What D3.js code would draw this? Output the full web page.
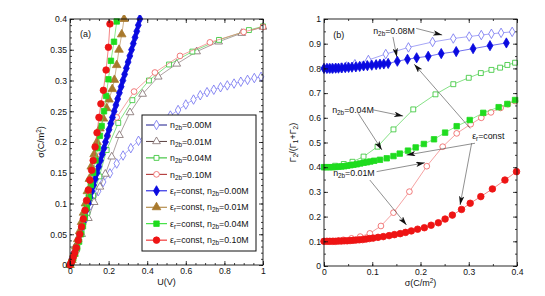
<!DOCTYPE html>
<html><head><meta charset="utf-8">
<script src="https://cdn.jsdelivr.net/npm/d3@7"></script>
<style>
body{margin:0;background:#fff}
svg{display:block}
text{font-family:"Liberation Sans",Arial,sans-serif;fill:#111}
</style></head>
<body><svg id="c" width="545" height="296"></svg>
<script>
// ---------- Panel (a): sigma vs U ----------
const aXTicks = [0, 0.2, 0.4, 0.6, 0.8, 1];
const aXTickLabels = ["0", "0.2", "0.4", "0.6", "0.8", "1"];
const aYTicks = [0, 0.05, 0.1, 0.15, 0.2, 0.25, 0.3, 0.35, 0.4];
const aYTickLabels = ["0", "0.05", "0.1", "0.15", "0.2", "0.25", "0.3", "0.35", "0.4"];

// [U, sigma]
const aOpen000 = [[0,0],[0.01,0.01],[0.02,0.02],[0.03,0.03],[0.045,0.045],[0.06,0.058],[0.075,0.072],[0.09,0.085],[0.105,0.097],[0.12,0.107],[0.146,0.12],[0.172,0.135],[0.207,0.149],[0.242,0.165],[0.275,0.178],[0.315,0.19],[0.355,0.202],[0.395,0.213],[0.435,0.224],[0.475,0.234],[0.52,0.243],[0.56,0.252],[0.6,0.261],[0.64,0.269],[0.675,0.276],[0.71,0.281],[0.745,0.285],[0.78,0.289],[0.815,0.292],[0.85,0.295],[0.885,0.298],[0.92,0.301],[0.955,0.304],[0.99,0.306]];
const aOpen001 = [[0,0],[0.03,0.025],[0.06,0.05],[0.095,0.076],[0.125,0.102],[0.155,0.127],[0.183,0.148],[0.216,0.176],[0.256,0.211],[0.311,0.248],[0.376,0.278],[0.457,0.306],[0.553,0.327],[0.656,0.347],[0.77,0.363],[0.89,0.377],[1.0,0.387]];
const aOpen004 = [[0,0],[0.03,0.027],[0.06,0.055],[0.09,0.085],[0.12,0.113],[0.152,0.144],[0.19,0.187],[0.25,0.231],[0.323,0.268],[0.409,0.3],[0.513,0.326],[0.634,0.347],[0.772,0.366],[0.927,0.382],[1.0,0.388]];
const aOpen010 = [[0,0],[0.03,0.03],[0.06,0.062],[0.09,0.1],[0.12,0.14],[0.155,0.178],[0.195,0.21],[0.242,0.24],[0.332,0.282],[0.44,0.313],[0.57,0.34],[0.725,0.362],[0.9,0.379],[1.0,0.387]];
const aFill000 = [[0,0],[0.012,0.01],[0.022,0.02],[0.032,0.03],[0.041,0.04],[0.05,0.05],[0.059,0.06],[0.068,0.07],[0.077,0.08],[0.086,0.09],[0.095,0.1],[0.104,0.11],[0.113,0.12],[0.122,0.13],[0.131,0.14],[0.14,0.15],[0.149,0.16],[0.158,0.17],[0.167,0.18],[0.176,0.19],[0.184,0.2],[0.193,0.21],[0.202,0.22],[0.211,0.23],[0.22,0.24],[0.229,0.25],[0.238,0.26],[0.247,0.27],[0.256,0.28],[0.265,0.29],[0.274,0.3],[0.283,0.31],[0.292,0.32],[0.301,0.33],[0.31,0.34],[0.319,0.35],[0.328,0.36],[0.337,0.37],[0.346,0.38],[0.354,0.39],[0.362,0.4]];
const aFill001 = [[0,0],[0.01,0.008],[0.02,0.018],[0.03,0.03],[0.04,0.042],[0.05,0.055],[0.06,0.07],[0.07,0.085],[0.08,0.1],[0.09,0.12],[0.1,0.14],[0.11,0.16],[0.125,0.18],[0.14,0.2],[0.155,0.222],[0.173,0.238],[0.19,0.255],[0.202,0.269],[0.219,0.286],[0.23,0.301],[0.242,0.325],[0.254,0.35],[0.268,0.375],[0.28,0.4]];
const aFill004 = [[0,0],[0.008,0.005],[0.017,0.011],[0.027,0.019],[0.037,0.028],[0.047,0.038],[0.057,0.05],[0.067,0.063],[0.077,0.077],[0.087,0.093],[0.097,0.11],[0.108,0.13],[0.12,0.15],[0.132,0.17],[0.143,0.19],[0.155,0.21],[0.164,0.226],[0.176,0.25],[0.187,0.275],[0.199,0.302],[0.212,0.332],[0.228,0.363],[0.242,0.396]];
const aFill010 = [[0,0],[0.005,0.003],[0.01,0.007],[0.017,0.013],[0.025,0.02],[0.033,0.028],[0.043,0.04],[0.051,0.05],[0.06,0.062],[0.069,0.075],[0.078,0.089],[0.086,0.105],[0.095,0.122],[0.103,0.138],[0.112,0.154],[0.12,0.17],[0.13,0.192],[0.14,0.215],[0.15,0.24],[0.16,0.262],[0.173,0.284],[0.187,0.317],[0.199,0.354],[0.207,0.392]];

// ---------- Panel (b): Gamma2/(Gamma1+Gamma2) vs sigma ----------
const bXTicks = [0, 0.1, 0.2, 0.3, 0.4];
const bXTickLabels = ["0", "0.1", "0.2", "0.3", "0.4"];
const bYTicks = [0, 0.1, 0.2, 0.3, 0.4, 0.5, 0.6, 0.7, 0.8, 0.9, 1];
const bYTickLabels = ["0", "0.1", "0.2", "0.3", "0.4", "0.5", "0.6", "0.7", "0.8", "0.9", "1"];

// [sigma, ratio]
const bOpen008 = [[0,0.8],[0.008,0.8],[0.016,0.8],[0.025,0.801],[0.035,0.803],[0.047,0.808],[0.064,0.817],[0.092,0.834],[0.128,0.858],[0.175,0.885],[0.225,0.907],[0.268,0.921],[0.301,0.929],[0.326,0.935],[0.347,0.94],[0.367,0.944],[0.39,0.948]];
const bFill008 = [[0,0.8],[0.006,0.8],[0.012,0.8],[0.018,0.8],[0.024,0.801],[0.03,0.801],[0.037,0.802],[0.044,0.803],[0.051,0.804],[0.058,0.805],[0.066,0.806],[0.074,0.808],[0.082,0.81],[0.09,0.811],[0.099,0.813],[0.108,0.815],[0.116,0.817],[0.124,0.818],[0.133,0.82],[0.152,0.829],[0.173,0.837],[0.192,0.843],[0.216,0.849],[0.243,0.86],[0.274,0.868],[0.309,0.88],[0.344,0.892],[0.378,0.903]];
const bOpen004 = [[0,0.4],[0.01,0.401],[0.023,0.406],[0.041,0.413],[0.059,0.422],[0.082,0.443],[0.111,0.483],[0.144,0.553],[0.185,0.634],[0.231,0.695],[0.268,0.736],[0.3,0.762],[0.325,0.781],[0.347,0.794],[0.365,0.803],[0.38,0.814],[0.396,0.823]];
const bFill004 = [[0,0.4],[0.006,0.4],[0.012,0.4],[0.018,0.4],[0.024,0.401],[0.03,0.402],[0.036,0.403],[0.042,0.404],[0.048,0.406],[0.055,0.408],[0.061,0.41],[0.068,0.412],[0.075,0.415],[0.082,0.418],[0.089,0.42],[0.096,0.423],[0.104,0.426],[0.116,0.43],[0.13,0.436],[0.144,0.445],[0.157,0.455],[0.174,0.467],[0.19,0.48],[0.207,0.494],[0.228,0.513],[0.251,0.54],[0.275,0.566],[0.302,0.591],[0.33,0.62],[0.362,0.643],[0.38,0.656],[0.396,0.672]];
const bOpen001 = [[0,0.1],[0.01,0.1],[0.02,0.101],[0.03,0.103],[0.04,0.106],[0.057,0.112],[0.075,0.119],[0.095,0.132],[0.118,0.162],[0.144,0.216],[0.177,0.301],[0.213,0.404],[0.246,0.483],[0.275,0.537],[0.304,0.574],[0.326,0.6],[0.346,0.622],[0.366,0.64],[0.381,0.655],[0.396,0.668]];
const bFill001 = [[0,0.1],[0.006,0.1],[0.012,0.1],[0.018,0.1],[0.024,0.1],[0.03,0.101],[0.036,0.101],[0.042,0.102],[0.048,0.102],[0.054,0.103],[0.06,0.104],[0.066,0.105],[0.073,0.106],[0.08,0.107],[0.087,0.109],[0.094,0.111],[0.102,0.113],[0.112,0.116],[0.123,0.119],[0.135,0.123],[0.146,0.127],[0.158,0.131],[0.169,0.136],[0.181,0.142],[0.194,0.149],[0.208,0.155],[0.222,0.165],[0.237,0.175],[0.251,0.19],[0.266,0.206],[0.285,0.229],[0.303,0.254],[0.325,0.281],[0.349,0.312],[0.375,0.348],[0.399,0.382]];

// legend entries of panel (a)
const legendLabels = [
  ["", "0.00M"], ["", "0.01M"], ["", "0.04M"], ["", "0.10M"],
  ["c", "0.00M"], ["c", "0.01M"], ["c", "0.04M"], ["c", "0.10M"]
];

// ---------- styles ----------
const S = {
  open000: {sym: d3.symbolDiamond, fill: "#fff", stroke: "#6e6ef0", line: "#7f7ff2", size: 26, lineLeg: "#1a1a8c"},
  open001: {sym: d3.symbolTriangle, fill: "#fff", stroke: "#7d6b6b", line: "#8a7878", size: 26, lineLeg: "#5a4040"},
  open004: {sym: d3.symbolSquare, fill: "#fff", stroke: "#2fc42f", line: "#52d452", size: 24, lineLeg: "#22bb22"},
  open010: {sym: d3.symbolCircle, fill: "#fff", stroke: "#ee5a5a", line: "#f07a7a", size: 26, lineLeg: "#aa2222"},
  fill000: {sym: d3.symbolDiamond, fill: "#0a0ae0", stroke: "#0a0ae0", line: "#3030e8", size: 30, lineLeg: "#0a0ae0"},
  fill001: {sym: d3.symbolTriangle, fill: "#a8792c", stroke: "#a8792c", line: "#b8905a", size: 32, lineLeg: "#a8792c"},
  fill004: {sym: d3.symbolSquare, fill: "#1fdc1f", stroke: "#1fdc1f", line: "#5ae45a", size: 30, lineLeg: "#1fdc1f"},
  fill010: {sym: d3.symbolCircle, fill: "#ee1414", stroke: "#ee1414", line: "#f05050", size: 34, lineLeg: "#ee1414"}
};

const svg = d3.select("#c");
const defs = svg.append("defs");
defs.append("marker").attr("id","ah").attr("viewBox","0 0 10 6").attr("refX",10).attr("refY",3)
  .attr("markerWidth",9).attr("markerHeight",5.4).attr("markerUnits","userSpaceOnUse").attr("orient","auto")
  .append("path").attr("d","M0,0 L10,3 L0,6 L2.5,3 Z").attr("fill","#111");

function frame(g, x, y, xt, xl, yt, yl, xMinor, yMinor) {
  const [x0, x1] = x.range(), [y0, y1] = y.range();
  const mk = (axis, scale, ticks, labels, size, transform, showLabels) => {
    const a = axis(scale).tickValues(ticks).tickSizeInner(size).tickSizeOuter(0).tickPadding(3)
      .tickFormat((d, i) => showLabels ? labels[i] : "");
    const gg = g.append("g").attr("transform", transform).call(a);
    gg.select(".domain").remove();
    gg.selectAll("line").attr("stroke", "#111").attr("stroke-width", 0.8);
    gg.selectAll("text").attr("font-size", 8.6).attr("fill", "#111");
    return gg;
  };
  mk(d3.axisBottom, x, xt, xl, -4, `translate(0,${y0})`, true);
  mk(d3.axisTop, x, xt, xl, -4, `translate(0,${y1})`, false);
  mk(d3.axisLeft, y, yt, yl, -4, `translate(${x0},0)`, true);
  mk(d3.axisRight, y, yt, yl, -4, `translate(${x1},0)`, false);
  mk(d3.axisBottom, x, xMinor, [], -2, `translate(0,${y0})`, false);
  mk(d3.axisTop, x, xMinor, [], -2, `translate(0,${y1})`, false);
  mk(d3.axisLeft, y, yMinor, [], -2, `translate(${x0},0)`, false);
  mk(d3.axisRight, y, yMinor, [], -2, `translate(${x1},0)`, false);
  g.append("rect").attr("x", x0).attr("y", y1).attr("width", x1 - x0).attr("height", y0 - y1)
    .attr("fill", "none").attr("stroke", "#111").attr("stroke-width", 0.9);
}

function series(g, x, y, data, st, clipId) {
  const gg = g.append("g").attr("clip-path", `url(#${clipId})`);
  gg.append("path").datum(data)
    .attr("d", d3.line().x(d => x(d[0])).y(d => y(d[1])))
    .attr("fill", "none").attr("stroke", st.line).attr("stroke-width", 0.7);
  gg.selectAll("path.m").data(data).join("path").attr("class", "m")
    .attr("transform", d => `translate(${x(d[0])},${y(d[1])})`)
    .attr("d", d3.symbol().type(st.sym).size(st.size))
    .attr("fill", st.fill).attr("stroke", st.stroke).attr("stroke-width", 0.8);
}

function addClip(id, x, y) {
  const [x0, x1] = x.range(), [y0, y1] = y.range();
  defs.append("clipPath").attr("id", id).append("rect")
    .attr("x", x0 - 4).attr("y", y1 - 4).attr("width", x1 - x0 + 8).attr("height", y0 - y1 + 8);
}

function subText(t, parts, fs) {
  // parts: [text, mode] mode: "", "sub", "sup"
  parts.forEach(([s, m]) => {
    const ts = t.append("tspan").text(s);
    if (m === "sub") ts.attr("font-size", fs * 0.72).attr("baseline-shift", "-30%");
    else if (m === "sup") ts.attr("font-size", fs * 0.72).attr("baseline-shift", "45%");
    else ts.attr("font-size", fs);
  });
}

// ===== Panel (a) =====
const xa = d3.scaleLinear().domain([0, 1]).range([70, 263]);
const ya = d3.scaleLinear().domain([0, 0.4]).range([265, 19]);
const ga = svg.append("g");
addClip("ca", xa, ya);
const aMinorX = d3.range(0, 21).map(i => i * 0.05);
const aMinorY = d3.range(0, 41).map(i => i * 0.01);
series(ga, xa, ya, aOpen000, S.open000, "ca");
series(ga, xa, ya, aOpen001, S.open001, "ca");
series(ga, xa, ya, aOpen004, S.open004, "ca");
series(ga, xa, ya, aOpen010, S.open010, "ca");
series(ga, xa, ya, aFill000, S.fill000, "ca");
series(ga, xa, ya, aFill001, S.fill001, "ca");
series(ga, xa, ya, aFill004, S.fill004, "ca");
series(ga, xa, ya, aFill010, S.fill010, "ca");
frame(ga, xa, ya, aXTicks, aXTickLabels, aYTicks, aYTickLabels, aMinorX, aMinorY);
ga.append("text").attr("x", xa(0.052)).attr("y", ya(0.371)).attr("font-size", 9).text("(a)");
subText(ga.append("text").attr("x", (xa(0) + xa(1)) / 2).attr("y", 285).attr("text-anchor", "middle"), [["U(V)", ""]], 9);
subText(ga.append("text").attr("transform", `translate(44,${(ya(0) + ya(0.4)) / 2}) rotate(-90)`).attr("text-anchor", "middle"),
  [["σ(C/m", ""], ["2", "sup"], [")", ""]], 9);

// legend
const leg = ga.append("g");
leg.append("rect").attr("x", 142).attr("y", 115).attr("width", 114).attr("height", 136)
  .attr("fill", "#fff").attr("stroke", "#111").attr("stroke-width", 1);
const legStyles = [S.open000, S.open001, S.open004, S.open010, S.fill000, S.fill001, S.fill004, S.fill010];
legendLabels.forEach((lab, i) => {
  const yy = 125 + i * 16.45;
  const st = legStyles[i];
  leg.append("line").attr("x1", 146).attr("x2", 167).attr("y1", yy).attr("y2", yy)
    .attr("stroke", st.lineLeg).attr("stroke-width", 1);
  leg.append("path").attr("transform", `translate(156.5,${yy})`)
    .attr("d", d3.symbol().type(st.sym).size(st.size)).attr("fill", st.fill).attr("stroke", st.stroke).attr("stroke-width", 0.8);
  const t = leg.append("text").attr("x", 170).attr("y", yy + 3.2);
  const parts = lab[0] === "c"
    ? [["ε", ""], ["r", "sub"], ["=const, n", ""], ["2b", "sub"], ["=" + lab[1], ""]]
    : [["n", ""], ["2b", "sub"], ["=" + lab[1], ""]];
  subText(t, parts, 8.8);
});

// ===== Panel (b) =====
const xb = d3.scaleLinear().domain([0, 0.4]).range([324, 517]);
const yb = d3.scaleLinear().domain([0, 1]).range([266, 19]);
const gb = svg.append("g");
addClip("cb", xb, yb);
const bMinorX = d3.range(0, 9).map(i => i * 0.05);
const bMinorY = d3.range(0, 21).map(i => i * 0.05);
series(gb, xb, yb, bOpen008, S.open000, "cb");
series(gb, xb, yb, bOpen004, S.open004, "cb");
series(gb, xb, yb, bOpen001, S.open010, "cb");
series(gb, xb, yb, bFill008, S.fill000, "cb");
series(gb, xb, yb, bFill004, S.fill004, "cb");
series(gb, xb, yb, bFill001, S.fill010, "cb");
frame(gb, xb, yb, bXTicks, bXTickLabels, bYTicks, bYTickLabels, bMinorX, bMinorY);
gb.append("text").attr("x", xb(0.019)).attr("y", yb(0.923)).attr("font-size", 9).text("(b)");
subText(gb.append("text").attr("x", (xb(0) + xb(0.4)) / 2).attr("y", 286).attr("text-anchor", "middle"),
  [["σ(C/m", ""], ["2", "sup"], [")", ""]], 9);
subText(gb.append("text").attr("transform", `translate(296,${(yb(0) + yb(1)) / 2}) rotate(-90)`).attr("text-anchor", "middle"),
  [["Γ", ""], ["2", "sub"], ["/(Γ", ""], ["1", "sub"], ["+Γ", ""], ["2", "sub"], [")", ""]], 9);

// annotations (data coordinates)
const bArrows = [
  [0.191, 0.962, 0.245, 0.935],
  [0.143, 0.927, 0.151, 0.846],
  [0.303, 0.557, 0.187, 0.817],
  [0.313, 0.497, 0.171, 0.449],
  [0.306, 0.497, 0.282, 0.247],
  [0.102, 0.632, 0.164, 0.607],
  [0.071, 0.618, 0.12, 0.47],
  [0.109, 0.382, 0.209, 0.418],
  [0.095, 0.348, 0.171, 0.166]
];
bArrows.forEach(a => {
  gb.append("line").attr("x1", xb(a[0])).attr("y1", yb(a[1])).attr("x2", xb(a[2])).attr("y2", yb(a[3]))
    .attr("stroke", "#444").attr("stroke-width", 0.6).attr("marker-end", "url(#ah)");
});
const bNotes = [
  [0.102, 0.939, [["n", ""], ["2b", "sub"], ["=0.08M", ""]]],
  [0.017, 0.619, [["n", ""], ["2b", "sub"], ["=0.04M", ""]]],
  [0.307, 0.514, [["ε", ""], ["r", "sub"], ["=const", ""]]],
  [0.019, 0.364, [["n", ""], ["2b", "sub"], ["=0.01M", ""]]]
];
bNotes.forEach(n => {
  const t = gb.append("text").attr("x", xb(n[0])).attr("y", yb(n[1]));
  subText(t, n[2], 8.8);
});
</script>
</body></html>
